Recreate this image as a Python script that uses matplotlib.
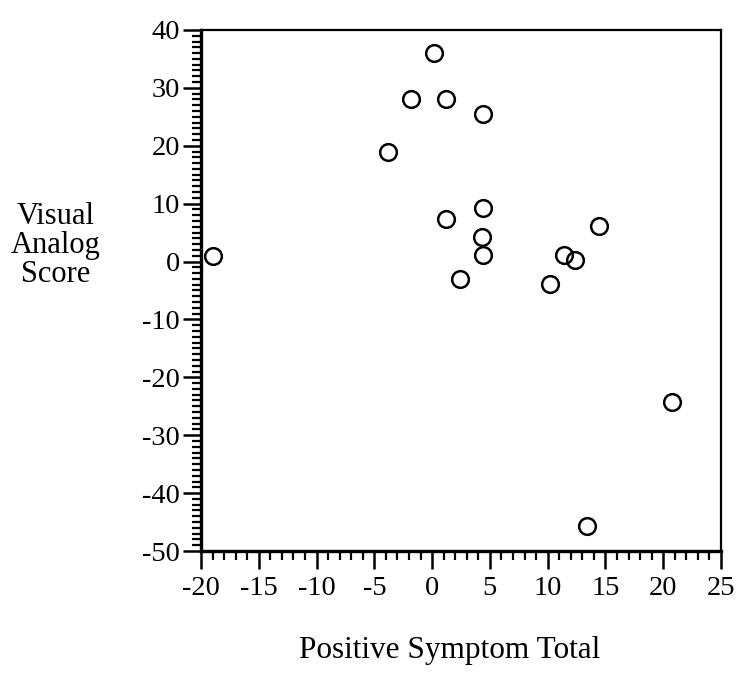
import matplotlib
matplotlib.use("Agg")
import matplotlib.pyplot as plt
from matplotlib.ticker import MultipleLocator

# Positive symptom total (change) vs. visual analog score, one point per subject
positive_symptom_total = [0.2, -1.8, 1.2, 4.4, -3.8, 1.2, 4.4, 4.3, 4.4, 2.4,
                          14.4, 11.4, 12.4, 10.2, -19.0, 20.8, 13.4]
visual_analog_score = [36.1, 28.0, 28.1, 25.4, 18.9, 7.4, 9.2, 4.3, 1.2, -3.0,
                       6.2, 1.2, 0.3, -3.8, 0.9, -24.3, -45.6]

x_ticks = [-20, -15, -10, -5, 0, 5, 10, 15, 20, 25]
y_ticks = [-50, -40, -30, -20, -10, 0, 10, 20, 30, 40]

plt.rcParams['font.family'] = ['Liberation Serif', 'DejaVu Serif']
plt.rcParams['axes.unicode_minus'] = False

fig = plt.figure(figsize=(7.36, 6.75), dpi=100)
ax = fig.add_axes([0.2731, 0.1837, 0.7065, 0.7719])

ax.plot(positive_symptom_total, visual_analog_score, linestyle='none',
        marker='o', markersize=12, markerfacecolor='none',
        markeredgecolor='black', markeredgewidth=1.8)

ax.set_xlim(-20, 25)
ax.set_ylim(-50, 40)
ax.set_xticks(x_ticks)
ax.set_yticks(y_ticks)
ax.xaxis.set_minor_locator(MultipleLocator(1))
ax.yaxis.set_minor_locator(MultipleLocator(1))

ax.tick_params(axis='both', which='major', direction='out', length=13,
               width=1.8, labelsize=20.5, pad=2)
ax.tick_params(axis='both', which='minor', direction='out', length=6.5,
               width=1.6)
ax.tick_params(axis='x', which='major', pad=5)

for side in ['left', 'bottom']:
    ax.spines[side].set_linewidth(2.4)
for side in ['top', 'right']:
    ax.spines[side].set_linewidth(1.6)

fig.text(0.076, 0.637, "Visual\nAnalog\nScore", ha='center', va='center',
         fontsize=22, linespacing=1.0)
fig.text(0.611, 0.0252, "Positive Symptom Total", ha='center',
         va='baseline', fontsize=22.5)

fig.savefig("out.png", dpi=100)
